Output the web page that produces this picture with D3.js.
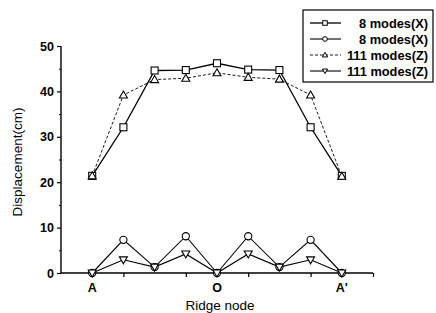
<!DOCTYPE html>
<html><head><meta charset="utf-8">
<script src="https://cdn.jsdelivr.net/npm/d3@7"></script>
<style>body{margin:0;background:#fff}svg{display:block}text{font-family:"Liberation Sans",Arial,sans-serif;fill:#000}</style>
</head><body>
<svg id="c" width="436" height="313"></svg>
<script>
const nodes = [1,2,3,4,5,6,7,8,9];
const xTickLabels = [{x:1,t:"A"},{x:5,t:"O"},{x:9,t:"A'"}];
const yTicks = [0,10,20,30,40,50];
const sq8X   = [21.4, 32.1, 44.6, 44.7, 46.2, 44.8, 44.7, 32.1, 21.4];
const circ8X = [0, 7.3, 1.3, 8.1, 0, 8.1, 1.3, 7.3, 0];
const triU111Z = [21.4, 39.2, 42.6, 42.9, 44.1, 43.1, 42.7, 39.2, 21.3];
const triD111Z = [0, 2.9, 1.3, 4.2, 0, 4.2, 1.3, 2.9, 0];
const legendLabels = ["8 modes(X)","8 modes(X)","111 modes(Z)","111 modes(Z)"];

const svg = d3.select("#c");
const x = d3.scaleLinear().domain([0,10]).range([61,373]);
const y = d3.scaleLinear().domain([0,50]).range([273,46]);

const series = [
  {v:sq8X, sym:"square", dash:null, w:1.3},
  {v:circ8X, sym:"circle", dash:null, w:1.1},
  {v:triU111Z, sym:"triup", dash:"3,2", w:0.9},
  {v:triD111Z, sym:"tridown", dash:null, w:1.1}
];

function marker(g, sym, cx, cy, k){
  k = k || 1;
  if(sym==="square") g.append("rect").attr("x",cx-3.5*k).attr("y",cy-3.5*k).attr("width",7*k).attr("height",7*k);
  else if(sym==="circle") g.append("circle").attr("cx",cx).attr("cy",cy).attr("r",3.6*k);
  else if(sym==="triup") g.append("path").attr("d",`M${cx},${cy-4*k}L${cx+4*k},${cy+3*k}L${cx-4*k},${cy+3*k}Z`);
  else g.append("path").attr("d",`M${cx},${cy+4*k}L${cx+4*k},${cy-3*k}L${cx-4*k},${cy-3*k}Z`);
}

// axes
const yAxis = d3.axisLeft(y).tickValues(yTicks).tickSize(4).tickPadding(3);
const gy = svg.append("g").attr("transform","translate(61,0)").call(yAxis);
gy.select(".domain").attr("stroke-width",1.4).attr("d","M0,273V46");
gy.selectAll("text").attr("font-size",12.5).attr("font-weight","bold");
gy.selectAll("line").attr("stroke-width",1.2);
svg.append("g").attr("transform","translate(61,0)")
  .call(d3.axisLeft(y).tickValues([5,15,25,35,45]).tickSize(2).tickFormat(""))
  .call(g=>{g.select(".domain").remove(); g.selectAll("line").attr("stroke-width",1);});

const xAxis = d3.axisBottom(x).tickValues([2,4,6,8,10]).tickSize(4).tickFormat("");
const gx = svg.append("g").attr("transform","translate(0,273)").call(xAxis);
gx.select(".domain").attr("stroke-width",1.4).attr("d","M61,0H373");
gx.selectAll("line").attr("stroke-width",1.2);
svg.append("g").selectAll("text").data(xTickLabels).join("text")
  .attr("x",d=>x(d.x)).attr("y",292).attr("text-anchor","middle")
  .attr("font-size",12.5).attr("font-weight","bold").text(d=>d.t);

svg.append("text").attr("x",220).attr("y",310).attr("text-anchor","middle")
  .attr("font-size",13.5).text("Ridge node");
svg.append("text").attr("transform","translate(22,162) rotate(-90)").attr("text-anchor","middle")
  .attr("font-size",13.5).text("Displacement(cm)");

// lines
const line = d3.line().x((d,i)=>x(nodes[i])).y(d=>y(d));
series.forEach(s=>{
  svg.append("path").datum(s.v).attr("d",line).attr("fill","none").attr("stroke","#000")
    .attr("stroke-width",s.w).attr("stroke-dasharray",s.dash);
});
series.forEach(s=>{
  const g = svg.append("g").attr("fill","#fff").attr("stroke","#000").attr("stroke-width",1.1);
  s.v.forEach((v,i)=>marker(g,s.sym,x(nodes[i]),y(v)));
});

// legend
const lg = svg.append("g");
lg.append("rect").attr("x",303).attr("y",10).attr("width",130).attr("height",72)
  .attr("fill","#fff").attr("stroke","#000").attr("stroke-width",1.2);
const rowY = [23,39,55,71];
series.forEach((s,i)=>{
  const yy = rowY[i];
  lg.append("line").attr("x1",310).attr("x2",341).attr("y1",yy).attr("y2",yy)
    .attr("stroke","#000").attr("stroke-width",s.w).attr("stroke-dasharray",s.dash);
  const g = lg.append("g").attr("fill","#fff").attr("stroke","#000").attr("stroke-width",1);
  marker(g,s.sym,325,yy,0.65);
  lg.append("text").attr("x",428).attr("y",yy+4.5).attr("text-anchor","end")
    .attr("font-size",12.8).attr("font-weight","bold").text(legendLabels[i]);
});
</script>
</body></html>
